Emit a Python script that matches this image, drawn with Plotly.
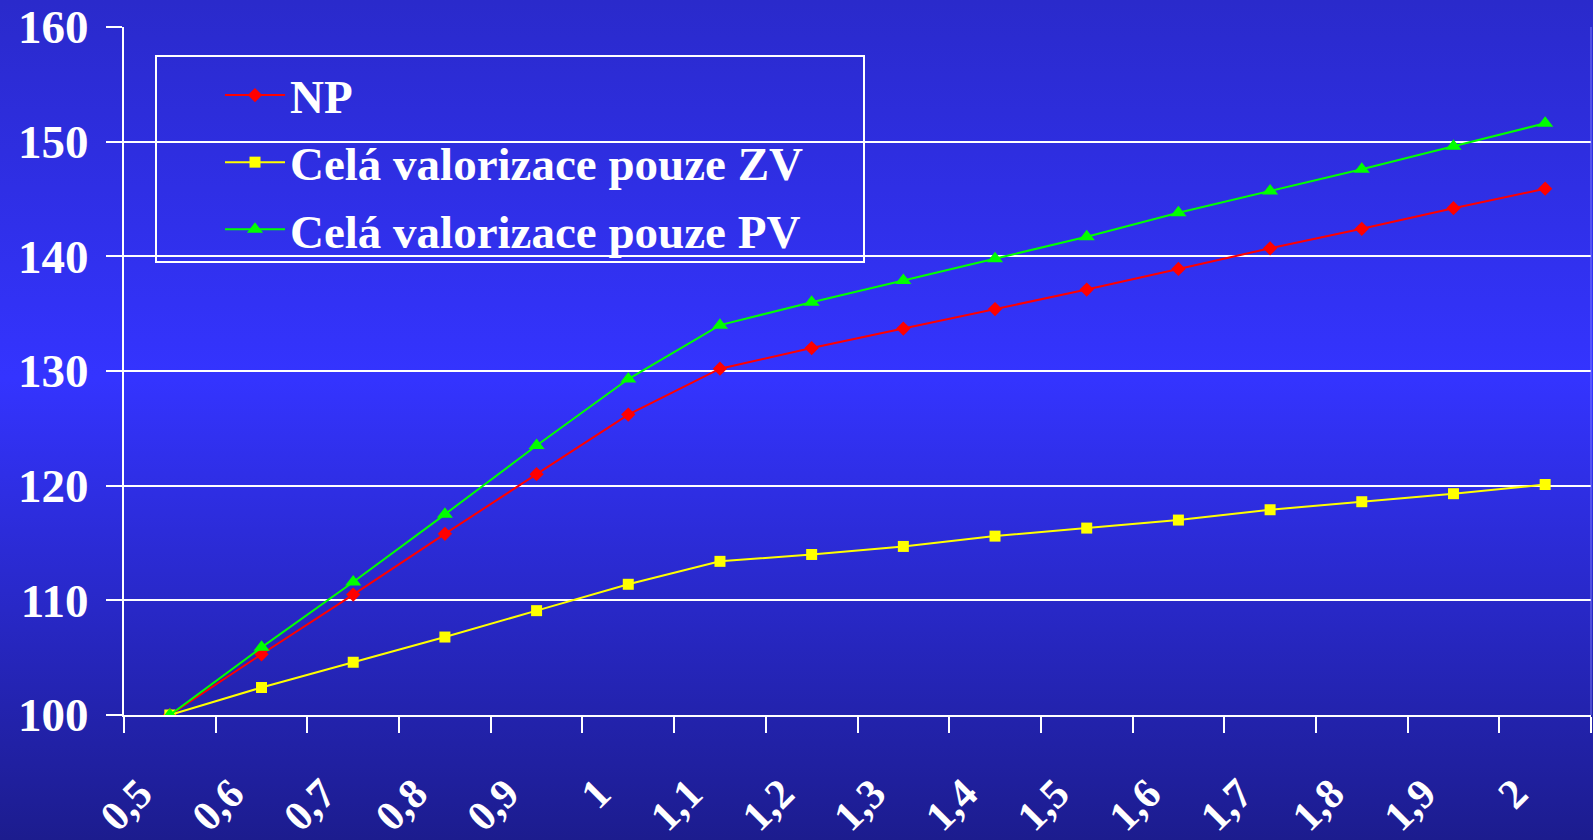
import base64
import plotly.graph_objects as go

categories = ["0,5", "0,6", "0,7", "0,8", "0,9", "1", "1,1", "1,2", "1,3", "1,4",
              "1,5", "1,6", "1,7", "1,8", "1,9", "2"]
np_values = [100, 105.3, 110.5, 115.8, 121.0, 126.2, 130.2, 132.0, 133.7, 135.4,
             137.1, 138.9, 140.7, 142.4, 144.2, 145.9]
zv_values = [100, 102.4, 104.6, 106.8, 109.1, 111.4, 113.4, 114.0, 114.7, 115.6,
             116.3, 117.0, 117.9, 118.6, 119.3, 120.1]
pv_values = [100, 105.9, 111.6, 117.5, 123.5, 129.3, 134.0, 136.0, 137.9, 139.8,
             141.7, 143.8, 145.7, 147.6, 149.6, 151.6]
series_names = ["NP", "Celá valorizace pouze ZV", "Celá valorizace pouze PV"]
y_ticks = [100, 110, 120, 130, 140, 150, 160]

W, H = 1593, 840
L, R, T, B = 124, 2, 27, 125
PW, PH = W - L - R, H - T - B

FONT = "Liberation Serif"

fig = go.Figure()
fig.add_trace(go.Scatter(x=categories, y=np_values, name=series_names[0], mode="lines+markers",
                         legendgroup="a",
                         line=dict(color="#ff0000", width=2),
                         marker=dict(symbol="diamond", size=11, color="#ff0000")))
fig.add_trace(go.Scatter(x=categories, y=zv_values, name=series_names[1], mode="lines+markers",
                         legendgroup="b",
                         line=dict(color="#ffff00", width=2),
                         marker=dict(symbol="square", size=11, color="#ffff00")))
fig.add_trace(go.Scatter(x=categories, y=pv_values, name=series_names[2], mode="lines+markers",
                         legendgroup="c",
                         line=dict(color="#00ff00", width=2),
                         marker=dict(symbol="triangle-up", size=14, color="#00ff00")))

svg = (f"<svg xmlns='http://www.w3.org/2000/svg' width='{W}' height='{H}' viewBox='0 0 {W} {H}' preserveAspectRatio='none'>"
       "<defs><linearGradient id='g' x1='0' y1='0' x2='0' y2='1'>"
       "<stop offset='0' stop-color='#2a2acb'/>"
       "<stop offset='0.45' stop-color='#3434ff'/>"
       "<stop offset='1' stop-color='#1c1c8e'/>"
       "</linearGradient></defs>"
       f"<rect x='0' y='0' width='{W}' height='{H}' fill='url(#g)'/></svg>")
src = "data:image/svg+xml;base64," + base64.b64encode(svg.encode()).decode()

fig.update_layout(
    template="none",
    width=W, height=H,
    margin=dict(l=L, r=R, t=T, b=B, pad=0),
    paper_bgcolor="#2828c0",
    plot_bgcolor="rgba(0,0,0,0)",
    font=dict(family=FONT, color="white"),
    images=[dict(source=src, xref="paper", yref="paper",
                 x=-L / PW, y=1 + T / PH, sizex=W / PW, sizey=H / PH,
                 xanchor="left", yanchor="top", sizing="stretch", layer="below")],
    showlegend=True,
    legend=dict(x=(220 - L) / PW, y=(715 - 58) / PH, xanchor="left", yanchor="top",
                bgcolor="rgba(0,0,0,0)", borderwidth=0,
                font=dict(family=FONT, size=47, color="white", weight="bold"),
                itemwidth=60, tracegroupgap=3, traceorder="grouped"),
    xaxis=dict(type="category", range=[-0.5, 15.5], tickson="boundaries",
               showgrid=False, showline=True, linecolor="white", linewidth=2,
               ticks="outside", ticklen=16, tickwidth=2, tickcolor="white",
               tickangle=-45, ticklabelstandoff=35, ticklabelshift=-30,
               tickfont=dict(family=FONT, size=42, color="white", weight="bold"),
               zeroline=False),
    yaxis=dict(range=[100, 160], tickvals=y_ticks, ticktext=[str(v) for v in y_ticks],
               showgrid=True, gridcolor="white", gridwidth=2,
               showline=True, linecolor="white", linewidth=2,
               ticks="outside", ticklen=16, tickwidth=2, tickcolor="white",
               ticklabelstandoff=8,
               tickfont=dict(family=FONT, size=47, color="white", weight="bold"),
               zeroline=False),
    shapes=[
        dict(type="rect", xref="paper", yref="paper",
             x0=(156 - L) / PW, x1=(864 - L) / PW,
             y0=(715 - 262) / PH, y1=(715 - 56) / PH,
             line=dict(color="white", width=2), fillcolor="rgba(0,0,0,0)", layer="above"),
        dict(type="line", xref="paper", yref="paper", x0=1, x1=1, y0=0, y1=1,
             line=dict(color="rgba(140,140,255,0.8)", width=1)),
    ],
)

fig.write_html("out.html", config={"displayModeBar": False},
               post_script="document.body.style.margin='0px';document.body.style.background='#2828c0';")
